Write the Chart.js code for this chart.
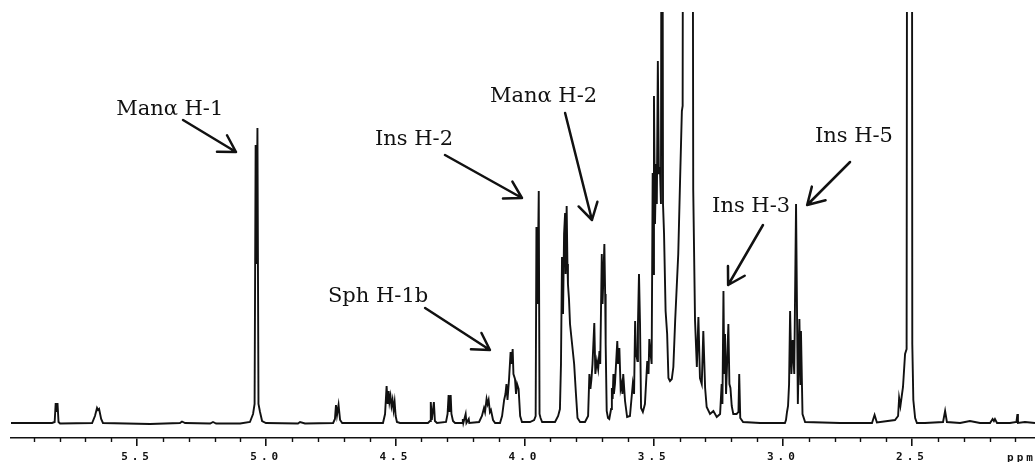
<!DOCTYPE html>
<html>
<head>
<meta charset="utf-8">
<title>1H NMR spectrum</title>
<script src="https://cdn.jsdelivr.net/npm/chart.js@4.4.1/dist/chart.umd.min.js"></script>
<style>
  html, body { margin: 0; padding: 0; background: #fff; overflow: hidden; }
  canvas { display: block; }
</style>
</head>
<body>
<canvas id="nmr" width="1035" height="462"></canvas>
<script>
// Chemical shift (ppm) and signal intensity, traced in four spectral regions.
const lowField = [ // 6.0 – 4.6 ppm
  [5.988, 1], [5.829, 1], [5.819, 2], [5.815, 21], [5.812, 12], [5.808, 21], [5.804, 2], [5.798, 0.5],
  [5.674, 1], [5.663, 8], [5.655, 16], [5.651, 14], [5.647, 15], [5.639, 5], [5.632, 1],
  [5.450, 0], [5.334, 1], [5.326, 2.5], [5.314, 1], [5.217, 0.5], [5.206, 2], [5.194, 0.5],
  [5.101, 0.5], [5.063, 2], [5.051, 10], [5.045, 20], [5.041, 279], [5.038, 160], [5.034, 296],
  [5.030, 20], [5.024, 12], [5.016, 3], [5.001, 1],
  [4.877, 0.5], [4.869, 2], [4.850, 0.5],
  [4.741, 1], [4.734, 5], [4.730, 19], [4.726, 9], [4.720, 19], [4.714, 4], [4.706, 1]
];

const sugarRing = [ // 4.6 – 3.9 ppm
  [4.548, 1], [4.540, 10], [4.534, 38], [4.530, 20], [4.526, 33], [4.523, 22], [4.519, 28],
  [4.515, 18], [4.511, 24], [4.507, 14], [4.503, 22], [4.499, 8], [4.494, 2], [4.482, 1],
  [4.374, 1], [4.366, 3], [4.363, 22], [4.359, 4], [4.351, 22], [4.347, 3], [4.339, 1],
  [4.304, 2], [4.298, 10], [4.294, 29], [4.290, 12], [4.286, 29], [4.283, 10], [4.277, 3], [4.269, 1],
  [4.242, 1], [4.239, 5], [4.237, 1], [4.228, 10], [4.225, 1], [4.216, 5], [4.214, 1],
  [4.176, 2], [4.165, 8], [4.157, 16], [4.153, 12], [4.147, 25], [4.143, 20], [4.139, 24],
  [4.134, 12], [4.130, 14], [4.122, 4], [4.114, 1],
  [4.095, 1], [4.087, 8], [4.079, 24], [4.074, 30], [4.070, 40], [4.066, 24], [4.060, 45],
  [4.054, 72], [4.050, 60], [4.046, 75], [4.043, 50], [4.037, 45], [4.033, 30], [4.029, 40],
  [4.023, 35], [4.017, 8], [4.010, 2],
  [3.979, 2], [3.963, 4], [3.957, 8], [3.954, 197], [3.950, 120], [3.945, 233], [3.942, 10],
  [3.938, 6], [3.932, 2]
];

const ringCore = [ // 3.9 – 3.3 ppm
  [3.882, 2], [3.870, 8], [3.863, 15], [3.859, 60], [3.855, 167], [3.851, 110], [3.847, 190],
  [3.843, 211], [3.841, 150], [3.837, 218], [3.834, 160], [3.832, 140], [3.828, 125], [3.824, 100],
  [3.816, 80], [3.808, 60], [3.801, 30], [3.795, 6], [3.785, 2], [3.766, 2],
  [3.754, 8], [3.749, 50], [3.745, 35], [3.741, 45], [3.737, 60], [3.730, 101], [3.726, 50],
  [3.720, 63], [3.715, 55], [3.710, 73], [3.707, 60], [3.701, 170], [3.698, 120], [3.691, 180],
  [3.688, 130], [3.686, 80], [3.682, 13], [3.677, 6], [3.672, 5],
  [3.665, 15], [3.662, 36], [3.659, 25], [3.656, 50], [3.654, 30], [3.650, 40], [3.641, 83],
  [3.638, 60], [3.633, 76], [3.628, 35], [3.624, 40], [3.621, 30], [3.618, 50], [3.611, 23], [3.603, 7],
  [3.592, 8], [3.581, 40], [3.576, 30], [3.572, 103], [3.568, 70], [3.563, 63], [3.561, 100],
  [3.557, 150], [3.553, 100], [3.549, 16], [3.542, 12],
  [3.534, 20], [3.525, 63], [3.520, 50], [3.517, 85], [3.512, 70], [3.508, 60], [3.504, 251],
  [3.502, 150], [3.499, 328], [3.495, 200], [3.491, 260], [3.488, 220], [3.484, 363], [3.480, 250],
  [3.476, 257], [3.472, 220], [3.468, 900], [3.464, 220], [3.460, 190], [3.454, 113], [3.448, 90],
  [3.443, 46], [3.437, 43],
  [3.430, 45], [3.424, 57], [3.417, 103], [3.405, 170], [3.398, 243], [3.391, 313], [3.388, 318],
  [3.385, 900], [3.351, 900], [3.347, 234], [3.340, 103], [3.333, 57], [3.327, 107], [3.321, 46],
  [3.314, 40], [3.308, 93], [3.301, 36], [3.295, 17]
];

const highField = [ // 3.3 – 2.0 ppm
  [3.282, 10], [3.269, 13], [3.256, 7], [3.243, 10], [3.237, 40], [3.234, 20], [3.230, 133],
  [3.227, 50], [3.224, 90], [3.220, 30], [3.216, 60], [3.211, 100], [3.207, 40], [3.203, 36],
  [3.198, 18], [3.192, 10], [3.179, 10], [3.172, 12], [3.169, 50], [3.165, 6], [3.154, 2], [3.088, 1],
  [2.992, 1], [2.988, 4], [2.984, 12], [2.980, 18], [2.976, 40], [2.972, 113], [2.967, 50],
  [2.962, 84], [2.956, 50], [2.949, 220], [2.942, 20], [2.936, 105], [2.932, 40], [2.930, 93],
  [2.924, 10], [2.914, 2],
  [2.779, 1], [2.655, 1], [2.645, 9], [2.636, 1.5],
  [2.566, 4], [2.554, 8], [2.550, 26], [2.545, 18], [2.535, 37], [2.527, 70], [2.521, 75],
  [2.518, 900], [2.501, 900], [2.499, 80], [2.495, 24], [2.488, 6], [2.481, 1],
  [2.450, 1], [2.380, 2], [2.372, 13], [2.365, 2], [2.314, 1], [2.276, 3], [2.237, 1], [2.198, 1],
  [2.188, 5], [2.183, 3], [2.179, 5], [2.171, 1], [2.121, 1], [2.096, 2], [2.092, 10], [2.090, 1],
  [2.063, 2], [2.024, 1]
];

// Axis ticks (ppm)
const majorTicks = [5.5, 5.0, 4.5, 4.0, 3.5, 3.0, 2.5];
const minorTicks = [5.9, 5.8, 5.7, 5.6, 5.4, 5.3, 5.2, 5.1, 4.9, 4.8, 4.7, 4.6,
                    4.4, 4.3, 4.2, 4.1, 3.9, 3.8, 3.7, 3.6, 3.4, 3.3, 3.2, 3.1,
                    2.9, 2.8, 2.7, 2.6, 2.4, 2.3, 2.2, 2.1];
const unitLabel = 'ppm';
const unitAt = 2.132;

// Signal assignments: label anchor, arrow tail and arrow tip as [ppm, intensity]
const callouts = [
  { text: 'Manα H-1', at: [5.581, 309], from: [5.322, 304], to: [5.117, 272] },
  { text: 'Ins H-2',  at: [4.579, 279], from: [4.308, 269], to: [4.010, 226] },
  { text: 'Manα H-2', at: [4.134, 322], from: [3.843, 311], to: [3.739, 204] },
  { text: 'Sph H-1b', at: [4.761, 122], from: [4.385, 116], to: [4.134, 74] },
  { text: 'Ins H-3',  at: [3.274, 212], from: [3.077, 199], to: [3.212, 139] },
  { text: 'Ins H-5',  at: [2.876, 282], from: [2.740, 262], to: [2.906, 219] }
];

const spectrum = [...lowField, ...sugarRing, ...ringCore, ...highField]
  .map(([x, y]) => ({ x, y }));

const ink = '#111';

const decorations = {
  id: 'decorations',
  beforeDraw(chart) {
    chart.ctx.letterSpacing = '4px';   // spaced-out tick digits
  },
  beforeDatasetsDraw(chart) {
    chart.ctx.letterSpacing = '0px';
  },
  afterDraw(chart) {
    const { ctx, chartArea } = chart;
    const xs = chart.scales.x, ys = chart.scales.y;
    ctx.save();

    // minor tick marks
    ctx.strokeStyle = ink;
    ctx.lineWidth = 1.4;
    ctx.beginPath();
    minorTicks.forEach(v => {
      const px = Math.round(xs.getPixelForValue(v)) + 0.5;
      ctx.moveTo(px, chartArea.bottom);
      ctx.lineTo(px, chartArea.bottom + 4);
    });
    ctx.stroke();

    // unit label at the right end of the axis
    ctx.fillStyle = ink;
    ctx.font = 'bold 11px "DejaVu Sans Mono"';
    ctx.letterSpacing = '3px';
    ctx.textAlign = 'left';
    ctx.textBaseline = 'middle';
    ctx.fillText(unitLabel, xs.getPixelForValue(unitAt), chartArea.bottom + 20);
    ctx.letterSpacing = '0px';

    // assignment labels with arrows
    ctx.font = '21px "DejaVu Serif"';
    ctx.textBaseline = 'alphabetic';
    ctx.lineWidth = 2.5;
    ctx.lineCap = 'round';
    ctx.lineJoin = 'round';
    const head = 19, spread = Math.PI * 0.17;
    callouts.forEach(c => {
      ctx.fillText(c.text, xs.getPixelForValue(c.at[0]), ys.getPixelForValue(c.at[1]));
      const x0 = xs.getPixelForValue(c.from[0]), y0 = ys.getPixelForValue(c.from[1]);
      const x1 = xs.getPixelForValue(c.to[0]),   y1 = ys.getPixelForValue(c.to[1]);
      const back = Math.atan2(y0 - y1, x0 - x1);
      ctx.beginPath();
      ctx.moveTo(x0, y0);
      ctx.lineTo(x1, y1);
      ctx.moveTo(x1 + head * Math.cos(back - spread), y1 + head * Math.sin(back - spread));
      ctx.lineTo(x1, y1);
      ctx.lineTo(x1 + head * Math.cos(back + spread), y1 + head * Math.sin(back + spread));
      ctx.stroke();
    });
    ctx.restore();
  }
};

new Chart(document.getElementById('nmr'), {
  type: 'scatter',
  data: {
    datasets: [{
      data: spectrum,
      showLine: true,
      borderColor: ink,
      borderWidth: 1.9,
      pointRadius: 0,
      pointHoverRadius: 0,
      tension: 0
    }]
  },
  options: {
    responsive: false,
    animation: false,
    devicePixelRatio: 1,
    layout: { padding: { left: 11, right: 0, top: 12, bottom: 0 } },
    plugins: { legend: { display: false }, tooltip: { enabled: false } },
    scales: {
      x: {
        type: 'linear',
        reverse: true,
        min: 2.024,
        max: 5.988,
        afterBuildTicks: s => { s.ticks = majorTicks.map(v => ({ value: v })); },
        afterFit: s => { s.height = 24; },
        grid: { drawOnChartArea: false, drawTicks: true, tickLength: 8, color: ink, lineWidth: 1.6 },
        border: { display: true, color: ink, width: 1.5 },
        ticks: {
          padding: 5,
          color: ink,
          autoSkip: false,
          maxRotation: 0,
          font: { family: 'DejaVu Sans Mono', size: 11, weight: 'bold' },
          callback: v => Number(v).toFixed(1)
        }
      },
      y: { display: false, min: -14, max: 412 }
    }
  },
  plugins: [decorations]
});
</script>
</body>
</html>
